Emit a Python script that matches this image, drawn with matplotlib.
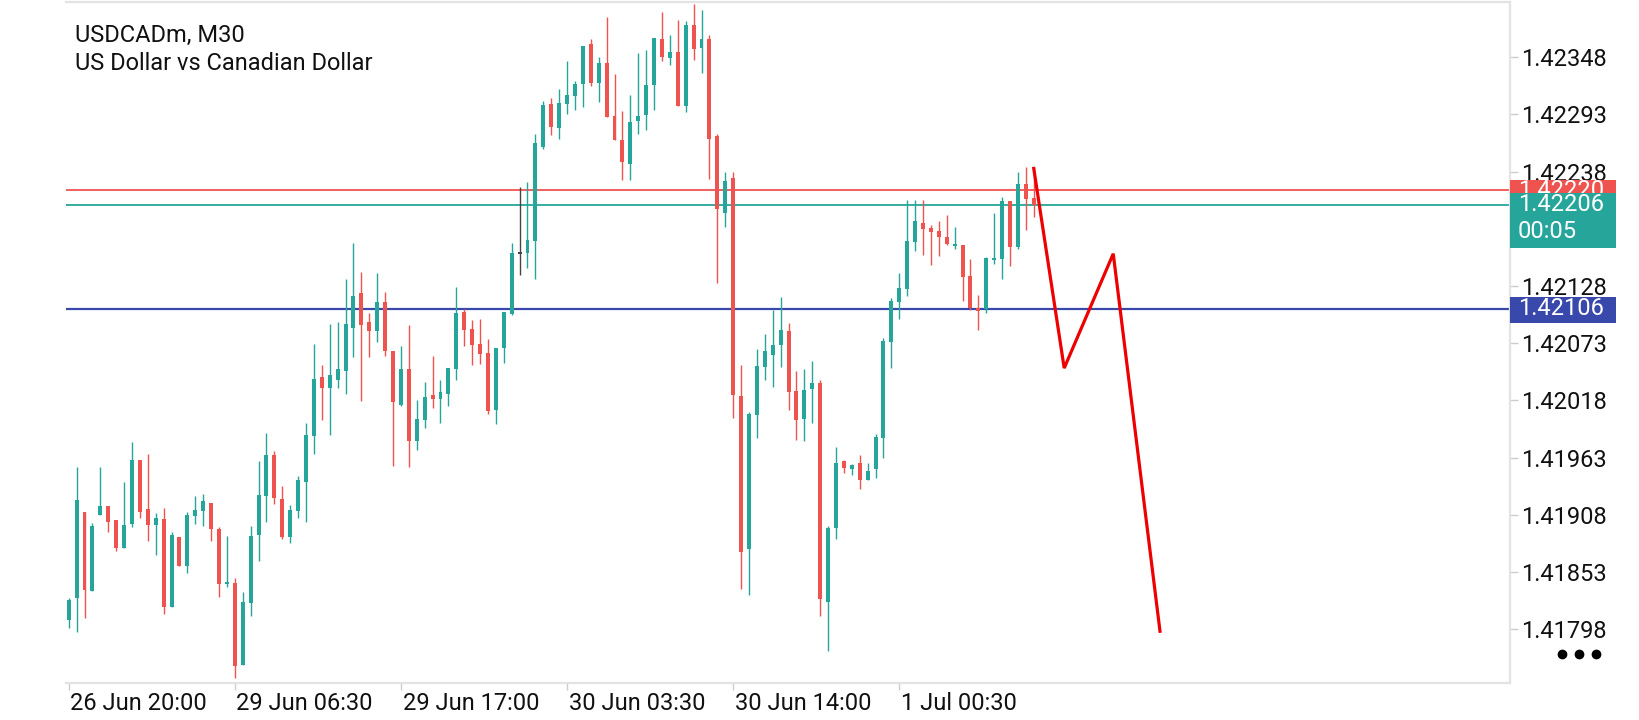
import numpy as np
import matplotlib
matplotlib.use("Agg")
import matplotlib.pyplot as plt
from matplotlib.patches import Rectangle
import matplotlib.transforms as mtransforms

plt.rcParams["font.family"] = ["Roboto", "DejaVu Sans"]

# USDCADm M30 candles, prices in points (1e-5)
open_pts = [
    141807, 141828, 141911, 141835, 141908, 141916, 141903, 141876, 141899, 141961,
    141914, 141898, 141904, 141819, 141887, 141859, 141907, 141912, 141919, 141894,
    141841, 141842, 141764, 141823, 141889, 141926, 141965, 141923, 141887, 141912,
    141940, 141984, 142040, 142030, 142038, 142046, 142088, 142121, 142093, 142085,
    142113, 142065, 142014, 142048, 141979, 141999, 142023, 142019, 142024, 142048,
    142103, 142087, 142072, 142064, 142009, 142068, 142101, 142159, 142160, 142171,
    142262, 142303, 142280, 142303, 142311, 142322, 142361, 142323, 142342, 142291,
    142268, 142245, 142287, 142292, 142321, 142365, 142347, 142353, 142301, 142379,
    142357, 142365, 142272, 142198, 142232, 142022, 141875, 142004, 142050, 142062,
    142071, 142085, 142027, 142000, 142029, 142035, 141824, 141895, 141960, 141952,
    141958, 141941, 141952, 141982, 142074, 142113, 142125, 142170, 142189, 142184,
    142181, 142175, 142166, 142167, 142138, 142107, 142106, 142153, 142154, 142210,
    142165, 142226, 142213,
]
high_pts = [
    141828, 141954, 141911, 141900, 141954, 141916, 141903, 141940, 141978, 141961,
    141966, 141910, 141915, 141891, 141887, 141911, 141926, 141928, 141919, 141896,
    141888, 141847, 141834, 141897, 141960, 141987, 141969, 141936, 141917, 141945,
    141996, 142072, 142052, 142091, 142093, 142135, 142169, 142141, 142102, 142140,
    142122, 142065, 142070, 142090, 142018, 142036, 142061, 142038, 142049, 142127,
    142106, 142095, 142096, 142077, 142068, 142103, 142169, 142223, 142228, 142274,
    142306, 142309, 142317, 142344, 142325, 142359, 142365, 142348, 142387, 142332,
    142296, 142312, 142352, 142355, 142366, 142391, 142369, 142384, 142383, 142399,
    142393, 142369, 142274, 142238, 142238, 142052, 142007, 142067, 142082, 142105,
    142117, 142092, 142046, 142048, 142056, 142038, 141897, 141973, 141961, 141957,
    141965, 141958, 141986, 142078, 142116, 142140, 142211, 142211, 142211, 142187,
    142190, 142196, 142185, 142167, 142154, 142119, 142156, 142198, 142214, 142210,
    142238, 142242, 142242,
]
low_pts = [
    141799, 141795, 141809, 141835, 141908, 141891, 141873, 141876, 141896, 141905,
    141883, 141869, 141813, 141819, 141859, 141852, 141899, 141897, 141883, 141829,
    141839, 141751, 141764, 141811, 141864, 141901, 141918, 141885, 141881, 141905,
    141901, 141966, 141999, 141985, 142030, 142024, 142060, 142017, 142060, 142074,
    142061, 141955, 142013, 141954, 141970, 141991, 142011, 141996, 142013, 142038,
    142070, 142052, 142053, 142005, 141995, 142054, 142100, 142139, 142145, 142135,
    142260, 142273, 142269, 142293, 142297, 142300, 142320, 142305, 142290, 142268,
    142230, 142230, 142274, 142278, 142297, 142344, 142340, 142301, 142295, 142345,
    142333, 142231, 142131, 142185, 142001, 141837, 141831, 141982, 142038, 142031,
    142050, 142009, 141980, 141979, 141996, 141811, 141777, 141885, 141948, 141946,
    141933, 141941, 141943, 141963, 142049, 142096, 142118, 142162, 142158, 142148,
    142157, 142167, 142164, 142114, 142105, 142086, 142102, 142149, 142135, 142147,
    142164, 142182, 142194,
]
close_pts = [
    141826, 141922, 141836, 141897, 141916, 141901, 141876, 141898, 141961, 141911,
    141898, 141905, 141819, 141889, 141859, 141908, 141913, 141921, 141894, 141841,
    141843, 141763, 141824, 141888, 141927, 141965, 141924, 141887, 141913, 141941,
    141985, 142039, 142030, 142042, 142048, 142091, 142118, 142090, 142085, 142113,
    142065, 142016, 142048, 141979, 142000, 142021, 142019, 142026, 142049, 142102,
    142086, 142071, 142063, 142008, 142068, 142103, 142160, 142159, 142172, 142265,
    142302, 142281, 142304, 142312, 142322, 142359, 142323, 142342, 142290, 142268,
    142247, 142286, 142291, 142321, 142366, 142348, 142353, 142301, 142379, 142356,
    142365, 142269, 142202, 142229, 142023, 141872, 142005, 142051, 142065, 142071,
    142086, 142026, 141999, 142028, 142035, 141827, 141895, 141958, 141953, 141956,
    141941, 141950, 141983, 142075, 142114, 142126, 142171, 142190, 142183, 142180,
    142175, 142168, 142168, 142137, 142107, 142104, 142155, 142155, 142210, 142165,
    142226, 142212, 142206,
]

# axis labels
time_labels = ["26 Jun 20:00", "29 Jun 06:30", "29 Jun 17:00",
               "30 Jun 03:30", "30 Jun 14:00", "1 Jul 00:30"]
time_label_bars = [0, 21, 42, 63, 84, 105]
price_ticks = [1.42348, 1.42293, 1.42238, 1.42183, 1.42128, 1.42073,
               1.42018, 1.41963, 1.41908, 1.41853, 1.41798]

# horizontal levels
ask_price = 1.42220
bid_price = 1.42206
level_price = 1.42106
bar_timer = "00:05"

# hand-drawn red forecast path (bar position, price)
path_bars = [122.0, 125.85, 132.05, 137.96]
path_prices = [1.42241, 1.42049, 1.42159, 1.41796]

UP = "#26a69a"
DOWN = "#ef5350"
BLUE = "#3949ab"
GRID = "#e3e3e3"

o = np.array(open_pts) / 1e5
h = np.array(high_pts) / 1e5
l = np.array(low_pts) / 1e5
c = np.array(close_pts) / 1e5
x = np.arange(len(o))

fig = plt.figure(figsize=(16.4, 7.2), dpi=100)
ax = fig.add_axes([0.0402, 0.0510, 0.8805, 0.9462])
ax.set_xlim(-0.35, 182.2)
ax.set_ylim(1.41746, 1.42401)
ax_px = 1444.0  # axes width in pixels

colors = []
for oo, cc in zip(o, c):
    if cc > oo:
        colors.append(UP)
    elif cc < oo:
        colors.append(DOWN)
    else:
        colors.append("#444444")

ax.vlines(x, l, h, colors=colors, linewidth=1.0, zorder=3)
body_lo = np.minimum(o, c)
body_h = np.maximum(np.abs(c - o), 0.000012)
ax.bar(x, body_h, bottom=body_lo, width=0.5, color=colors, linewidth=0, zorder=3)

# price levels
ax.axhline(ask_price, color=DOWN, linewidth=1.3, zorder=2)
ax.axhline(bid_price, color=UP, linewidth=1.3, zorder=2)
ax.axhline(level_price, color=BLUE, linewidth=1.6, zorder=2)

# forecast path
ax.plot(path_bars, path_prices, color="#ee0000", linewidth=2.3,
        solid_joinstyle="miter", zorder=5)

# frame
for side in ["top", "right", "bottom"]:
    ax.spines[side].set_color(GRID)
    ax.spines[side].set_linewidth(1.6)
ax.spines["left"].set_visible(False)

ax.yaxis.tick_right()
ax.set_yticks(price_ticks)
ax.set_yticklabels([f"{p:.5f}" for p in price_ticks])
ax.tick_params(axis="y", length=6, width=1, color="#cccccc",
               labelsize=17, pad=2, labelcolor="#111111")
ax.set_xticks(time_label_bars)
ax.set_xticklabels([])
ax.tick_params(axis="x", length=5, width=1, color="#cccccc")

trans_x = mtransforms.blended_transform_factory(ax.transData, ax.transAxes)
for xb, txt in zip(time_label_bars, time_labels):
    ax.text(xb + 0.2, -0.029, txt, transform=trans_x, ha="left", va="center",
            fontsize=17, color="#111111", clip_on=False)

# price boxes on the right scale
trans_y = mtransforms.blended_transform_factory(ax.transAxes, ax.transData)
box_w = 106 / ax_px
tx = 1.0 + 8 / ax_px
ax.add_patch(Rectangle((1.0, 1.42209), box_w, 0.000212, transform=trans_y,
                       facecolor=DOWN, edgecolor="none", clip_on=False, zorder=6))
ax.text(tx, ask_price, f"{ask_price:.5f}", transform=trans_y,
        ha="left", va="center", fontsize=17, color="white", clip_on=False, zorder=7)
ax.add_patch(Rectangle((1.0, 1.421645), box_w, 0.000529, transform=trans_y,
                       facecolor=UP, edgecolor="none", clip_on=False, zorder=8))
ax.text(tx, bid_price, f"{bid_price:.5f}", transform=trans_y,
        ha="left", va="center", fontsize=17, color="white", clip_on=False, zorder=9)
ax.text(tx, 1.42180, bar_timer, transform=trans_y,
        ha="left", va="center", fontsize=17, color="white", clip_on=False, zorder=9)
ax.add_patch(Rectangle((1.0, 1.420928), box_w, 0.000243, transform=trans_y,
                       facecolor=BLUE, edgecolor="none", clip_on=False, zorder=8))
ax.text(tx, level_price, f"{level_price:.5f}", transform=trans_y,
        ha="left", va="center", fontsize=17, color="white", clip_on=False, zorder=9)

# symbol caption
fig.text(75 / 1640, 1 - 35 / 720, "USDCADm, M30", ha="left", va="center",
         fontsize=17, color="#111111")
fig.text(75 / 1640, 1 - 63 / 720, "US Dollar vs Canadian Dollar", ha="left",
         va="center", fontsize=17, color="#111111")

# menu dots
fig.add_artist(plt.Line2D([1562 / 1640, 1579 / 1640, 1596 / 1640],
                          [1 - 654 / 720] * 3, linestyle="none", marker="o",
                          markersize=6, color="black", transform=fig.transFigure))

fig.savefig("out.png", dpi=100, facecolor="white")
